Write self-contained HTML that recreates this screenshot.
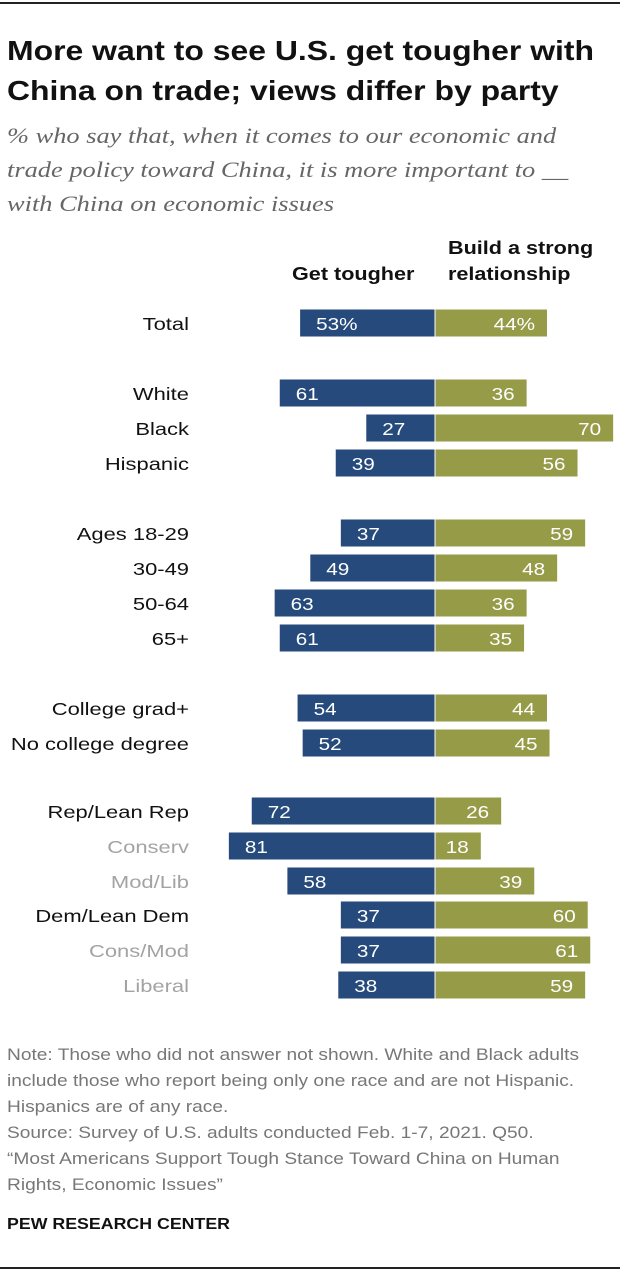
<!DOCTYPE html>
<html><head><meta charset="utf-8"><style>
body{margin:0;width:620px;height:1274px;background:#fff;font-family:"Liberation Sans",sans-serif;position:relative;overflow:hidden}
.t{position:absolute;white-space:nowrap;transform-origin:0 0}
</style></head><body>
<div class="t" style="left:0;top:2px;width:620px;height:2px;background:#222"></div>
<div class="t" style="left:7px;top:31px;font-size:28px;font-weight:bold;line-height:40px;color:#111;transform:scaleX(1.14)">More want to see U.S. get tougher with<br>China on trade; views differ by party</div>
<div class="t" style="left:7px;top:119px;font-size:22px;font-family:'Liberation Serif',serif;font-style:italic;line-height:34px;color:#666;transform:scaleX(1.2)">% who say that, when it comes to our economic and<br>trade policy toward China, it is more important to __<br>with China on economic issues</div>
<div class="t" style="left:292px;top:264px;font-size:18px;font-weight:bold;color:#111;transform:scaleX(1.2)">Get tougher</div>
<div class="t" style="left:448px;top:235px;font-size:18px;font-weight:bold;line-height:26px;color:#111;transform:scaleX(1.2)">Build a strong<br>relationship</div>
<svg id="chart" width="620" height="1020" style="position:absolute;left:0;top:0"></svg>
<div class="t" style="left:7px;top:1042px;font-size:16.5px;line-height:26px;color:#777;transform:scaleX(1.16)">Note: Those who did not answer not shown. White and Black adults<br>include those who report being only one race and are not Hispanic.<br>Hispanics are of any race.<br>Source: Survey of U.S. adults conducted Feb. 1-7, 2021. Q50.<br>“Most Americans Support Tough Stance Toward China on Human<br>Rights, Economic Issues”</div>
<div class="t" style="left:7px;top:1216px;font-size:16px;font-weight:bold;color:#111;transform:scaleX(1.11)">PEW RESEARCH CENTER</div>
<div class="t" style="left:0;top:1267px;width:620px;height:2px;background:#222"></div>
<script>
const categories=["Total","White","Black","Hispanic","Ages 18-29","30-49","50-64","65+","College grad+","No college degree","Rep/Lean Rep","Conserv","Mod/Lib","Dem/Lean Dem","Cons/Mod","Liberal"];
const tougher=[53,61,27,39,37,49,63,61,54,52,72,81,58,37,37,38];
const relationship=[44,36,70,56,59,48,36,35,44,45,26,18,39,60,61,59];
const subgroup=[0,0,0,0,0,0,0,0,0,0,0,1,1,0,1,1];
const rowY=[323,393,428,463,533,568,603,638,708,743,811,846,881,915,950,985];
const cx=435,k=2.545,bh=27;
const x=v=>v*k;
const svg=document.getElementById('chart');const NS='http://www.w3.org/2000/svg';
function mk(t,a,txt){const e=document.createElementNS(NS,t);for(const n in a)e.setAttribute(n,a[n]);if(txt!=null)e.textContent=txt;svg.appendChild(e);return e;}
categories.forEach((c,i)=>{
const y=rowY[i];
const l=mk('text',{x:0,y:0,transform:'translate(189,'+(y+7)+') scale(1.22,1)','text-anchor':'end','font-size':18,fill:subgroup[i]?'#a3a3a3':'#111','font-family':'Liberation Sans, sans-serif'},c);


const b1=mk('rect',{x:cx-x(tougher[i]),y:y-bh/2,width:x(tougher[i]),height:bh,fill:'#254a7b'});


const b2=mk('rect',{x:cx,y:y-bh/2,width:x(relationship[i]),height:bh,fill:'#969b48'});


const v1=mk('text',{x:0,y:0,transform:'translate('+(cx-x(tougher[i])+16)+','+(y+7)+') scale(1.15,1)','font-size':18,fill:'#fff','font-family':'Liberation Sans, sans-serif'},tougher[i]+(i==0?'%':''));


const v2=mk('text',{x:0,y:0,transform:'translate('+(cx+x(relationship[i])-12)+','+(y+7)+') scale(1.15,1)','text-anchor':'end','font-size':18,fill:'#fff','font-family':'Liberation Sans, sans-serif'},relationship[i]+(i==0?'%':''));


});
const ax=mk('line',{x1:cx,x2:cx,y1:305,y2:1000,stroke:'#fff','stroke-width':1});


</script>
</body></html>
